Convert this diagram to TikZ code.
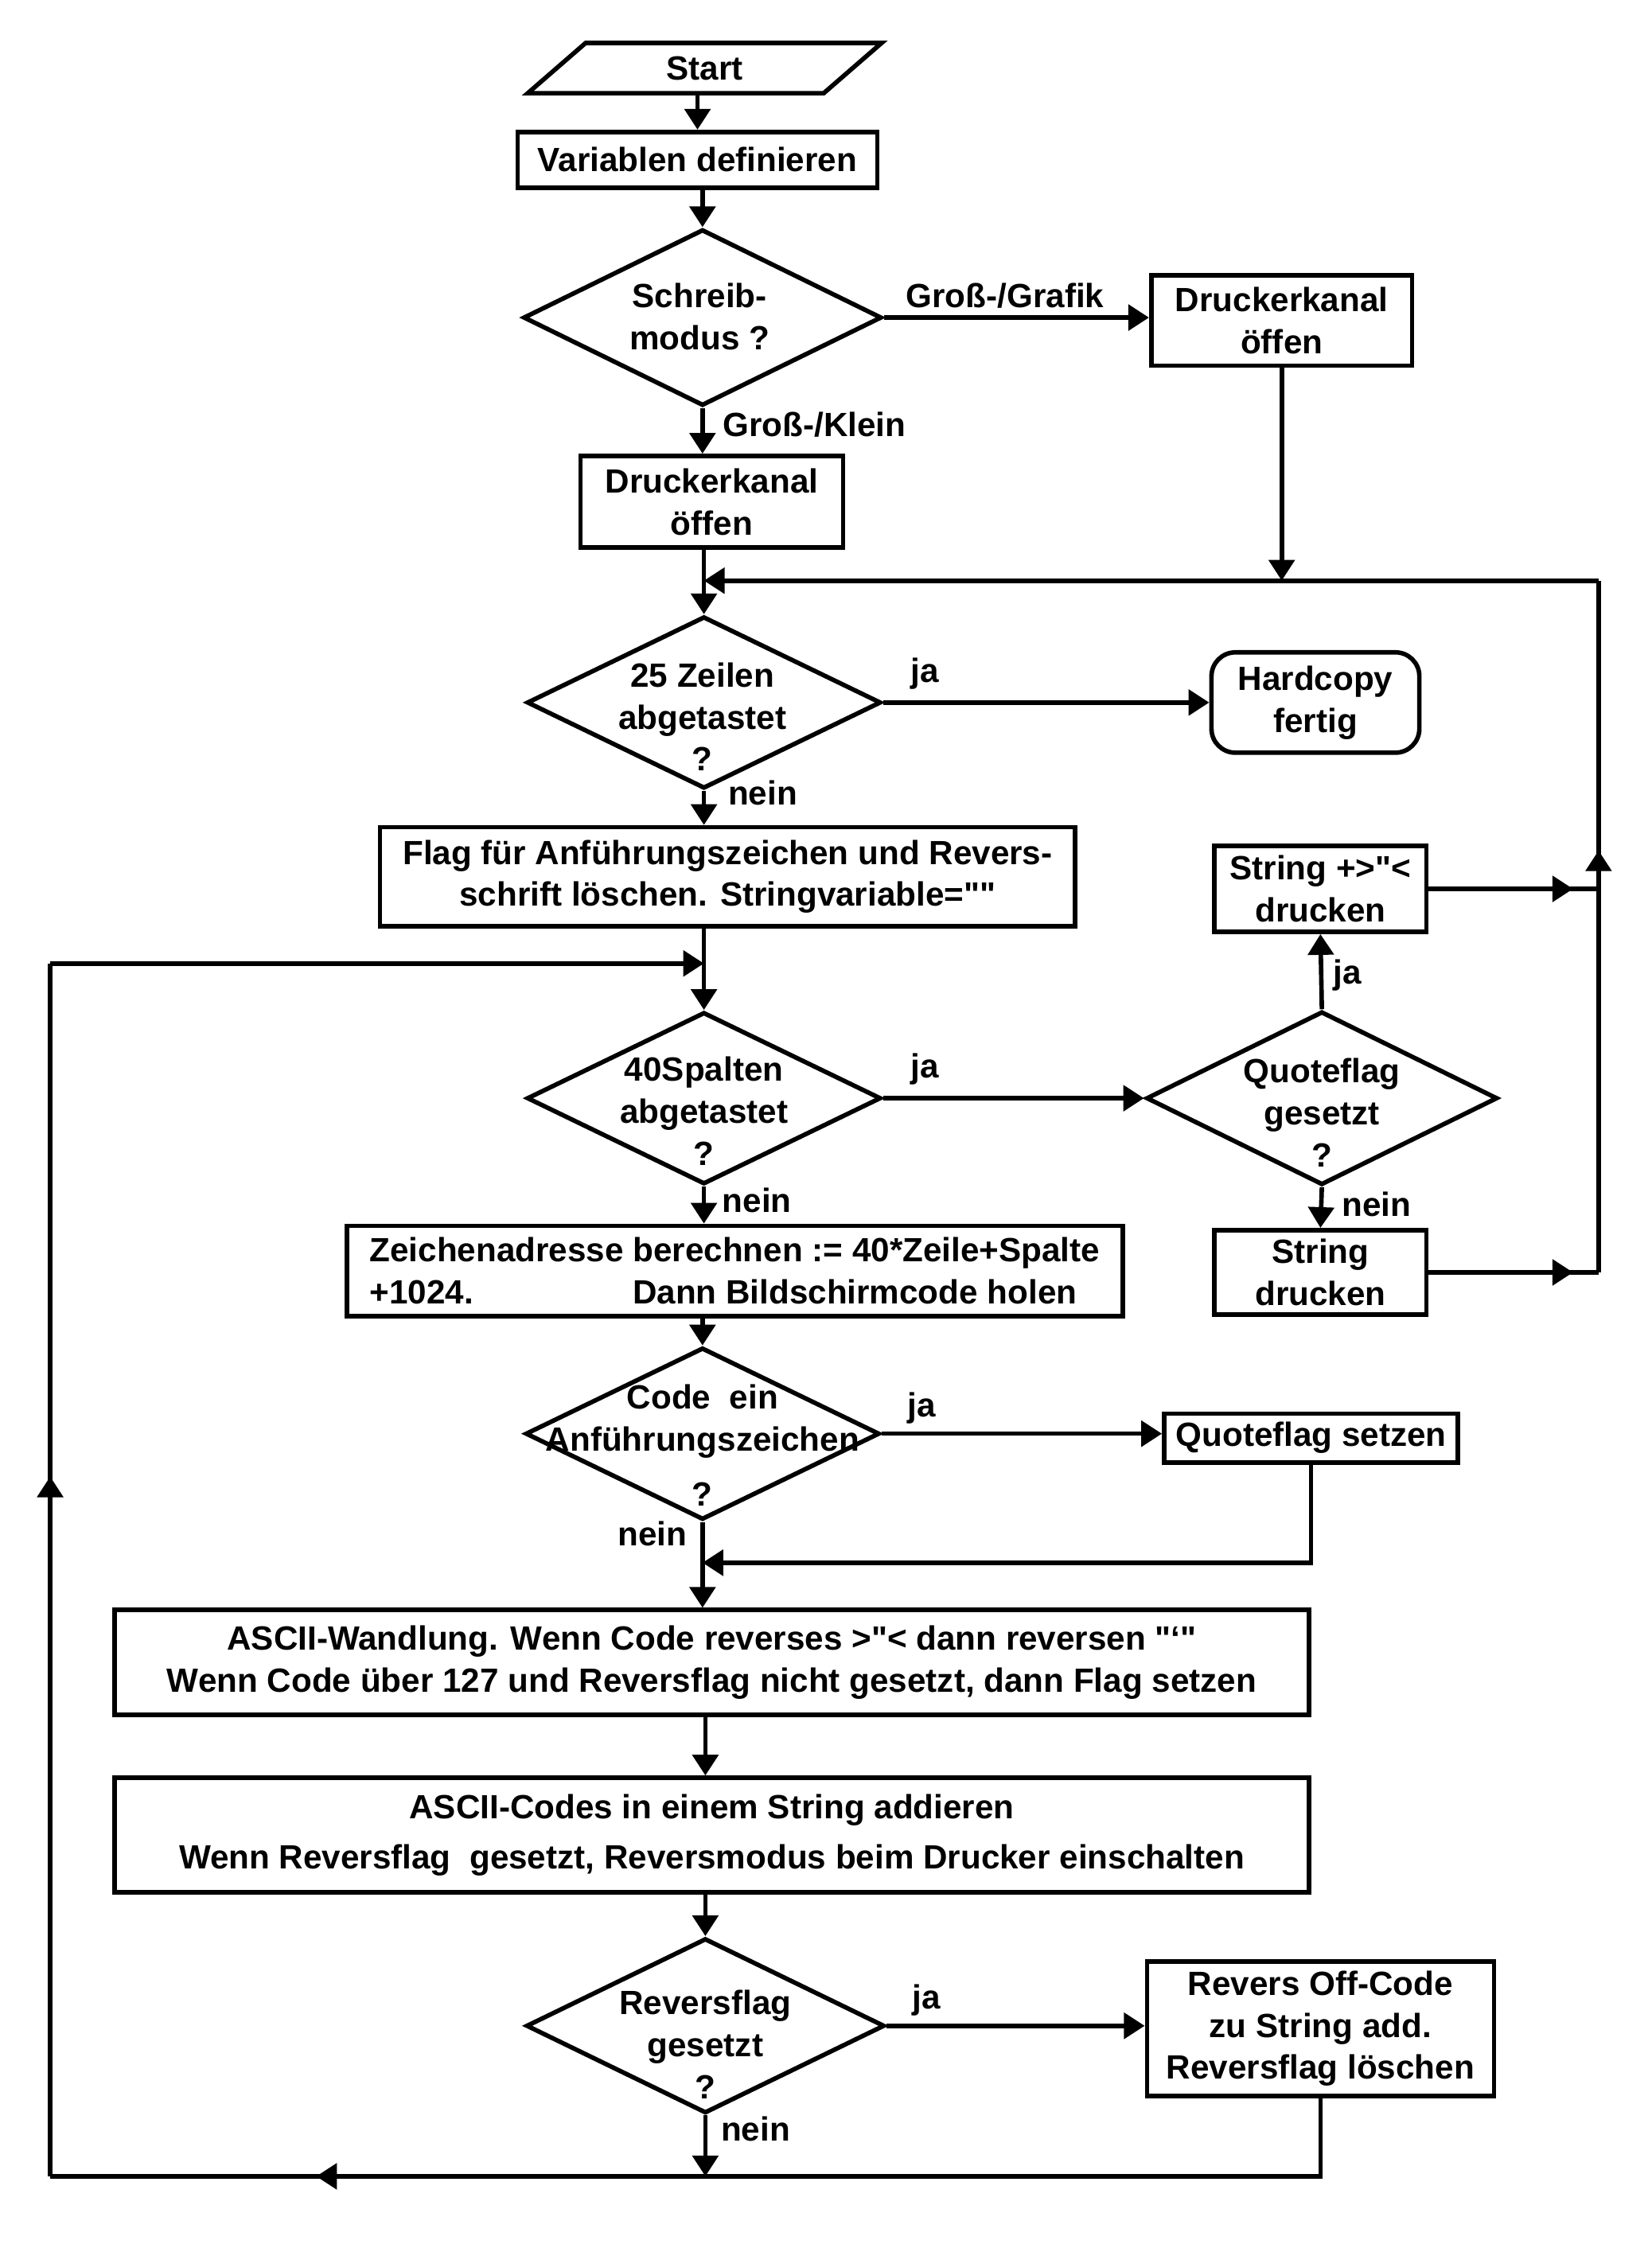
\documentclass[tikz,border=0pt]{standalone}
\usepackage{fontspec}
\setmainfont{Liberation Sans}[Ligatures=TeXOff]
\usetikzlibrary{shapes.geometric,arrows.meta,decorations.markings}
\begin{document}
\begin{tikzpicture}[x=0.18mm,y=-0.18mm,
  every node/.style={font=\bfseries\fontsize{12}{15}\selectfont, inner sep=0pt},
  >={Triangle[length=2.6mm,width=3.2mm]},
  ln/.style={line width=1.6pt},
  arr/.style={ln,->},
  marr/.style={ln, postaction={decorate}, decoration={markings, mark=at position #1 with {\arrow{>}}}},
  bx/.style 2 args={draw, ln, minimum width=#1*0.18mm, minimum height=#2*0.18mm, align=center},
  dia/.style 2 args={draw, ln, diamond, minimum width=#1*0.18mm, minimum height=#2*0.18mm},
  txt/.style={align=center},
  startsh/.style={draw, ln, trapezium, trapezium left angle=52, trapezium right angle=128, trapezium stretches=true, minimum width=247*0.18mm, minimum height=35*0.18mm}
]
\fill[white] (0,0) rectangle (1152,1568);
\useasboundingbox (0,0) rectangle (1152,1568);

% nodes
\node[startsh] (start) at (491.5,47.5) {Start};
\node[bx={251}{39}] (var) at (486.5,111.5) {Variablen definieren};
\node[dia={250}{123}] (d1) at (490,221.5) {};
\node[txt] (t1) at (488,221) {Schreib-\\modus ?};
\node[bx={182}{63}] (dk2) at (894,223.5) {Druckerkanal\\öffen};
\node[bx={183}{64}] (dk1) at (496.5,350) {Druckerkanal\\öffen};
\node[dia={247}{120}] (d2) at (491,490) {};
\node[txt] (t2) at (490,500) {25 Zeilen\\abgetastet\\?};
\node[bx={145}{70}, rounded corners=3mm] (hard) at (917.5,490) {Hardcopy\\fertig};
\node[bx={485}{69}] (flag) at (507.5,611.5) {Flag für Anführungszeichen und Revers-\\schrift löschen. Stringvariable=""};
\node[dia={247}{120}] (d3) at (491,766) {};
\node[txt] (t3) at (491,775) {40Spalten\\abgetastet\\?};
\node[dia={245}{121}] (d4) at (922,766) {};
\node[txt] (t4) at (922,776) {Quoteflag\\gesetzt\\?};
\node[bx={148}{60}] (spd) at (921,620) {String +>"<\\drucken};
\node[bx={148}{59}] (sd) at (921,887.5) {String\\drucken};
\node[bx={541}{63}, align=left] (zeich) at (512.5,886.5) {Zeichenadresse berechnen := 40*Zeile+Spalte\\+1024.\hspace{20mm}Dann Bildschirmcode holen};
\node[dia={247}{120}] (d5) at (490,1000) {};
\node[txt] (t5) at (490,1008) {Code~~ein\\Anführungszeichen\\[1.6mm]?};
\node[bx={205}{34}] (qs) at (914.5,1003) {Quoteflag setzen};
\node[bx={833}{73}] (a1) at (496.5,1159.5) {ASCII-Wandlung. Wenn Code reverses >"< dann reversen "‘"\\Wenn Code über 127 und Reversflag nicht gesetzt, dann Flag setzen};
\node[bx={833}{80}] (a2) at (496.5,1280) {ASCII-Codes in einem String addieren\\[1mm]Wenn Reversflag\ \ gesetzt, Reversmodus beim Drucker einschalten};
\node[dia={250}{122}] (d6) at (492,1413) {};
\node[txt] (t6) at (492,1426) {Reversflag\\gesetzt\\?};
\node[bx={242}{94}] (rev) at (921,1415) {Revers Off-Code\\zu String add.\\Reversflag löschen};

% labels
\node (l1) at (701,206) {Groß-/Grafik};
\node (l2) at (568,296) {Groß-/Klein};
\node (l3) at (645,470) {ja};
\node (l4) at (532,553) {nein};
\node (l5) at (645,746) {ja};
\node (l6) at (528,837) {nein};
\node (l7) at (940,680) {ja};
\node (l8) at (960,840) {nein};
\node (l9) at (643,982) {ja};
\node (l10) at (455,1070) {nein};
\node (l11) at (646,1395) {ja};
\node (l12) at (527,1485) {nein};

% coordinates
\coordinate (cR) at (1115,405);
\coordinate (cQ) at (490,1090);
\coordinate (cB) at (492,1518);
\coordinate (cBL) at (35,1518);
\coordinate (cTL) at (35,672);
\coordinate (cJ2) at (491,672);

% connectors
\draw[arr] (var.north |- start.south) -- (var.north);
\draw[arr] (d1.north |- var.south) -- (d1.north);
\draw[arr] (d1.east) -- (dk2.west |- d1.east);
\draw[arr] (d1.south) -- (d1.south |- dk1.north);
\draw[arr] (d2.north |- dk1.south) -- (d2.north);
\draw[arr] (dk2.south) -- (dk2.south |- cR);
\draw[marr=0.85] (spd.east) -- (spd.east -| cR);
\draw[marr=0.85] (sd.east) -- (sd.east -| cR);
\draw[marr=0.61] (sd.east -| cR) -- (cR);
\draw[arr] (cR) -- (d2.north |- cR);
\draw[arr] (d2.east) -- (hard.west);
\draw[arr] (d2.south) -- (d2.south |- flag.north);
\draw[arr] (d3.north |- flag.south) -- (d3.north);
\draw[arr] (d3.east) -- (d4.west);
\draw[arr] (d4.north) -- (spd.south);
\draw[arr] (d4.south) -- (sd.north);
\draw[arr] (d3.south) -- (d3.south |- zeich.north);
\draw[arr] (d5.north |- zeich.south) -- (d5.north);
\draw[arr] (d5.east) -- (qs.west |- d5.east);
\draw[arr] (qs.south) |- (cQ);
\draw[arr] (d5.south) -- (d5.south |- a1.north);
\draw[arr] (d6.north |- a1.south) -- (d6.north |- a2.north);
\draw[arr] (d6.north |- a2.south) -- (d6.north);
\draw[arr] (d6.east) -- (rev.west |- d6.east);
\draw[arr] (d6.south) -- (cB);
\draw[ln] (rev.south) |- (cB);
\draw[marr=0.594] (cB) -- (cBL);
\draw[marr=0.577] (cBL) -- (cTL);
\draw[arr] (cTL) -- (cJ2);
\end{tikzpicture}
\end{document}
